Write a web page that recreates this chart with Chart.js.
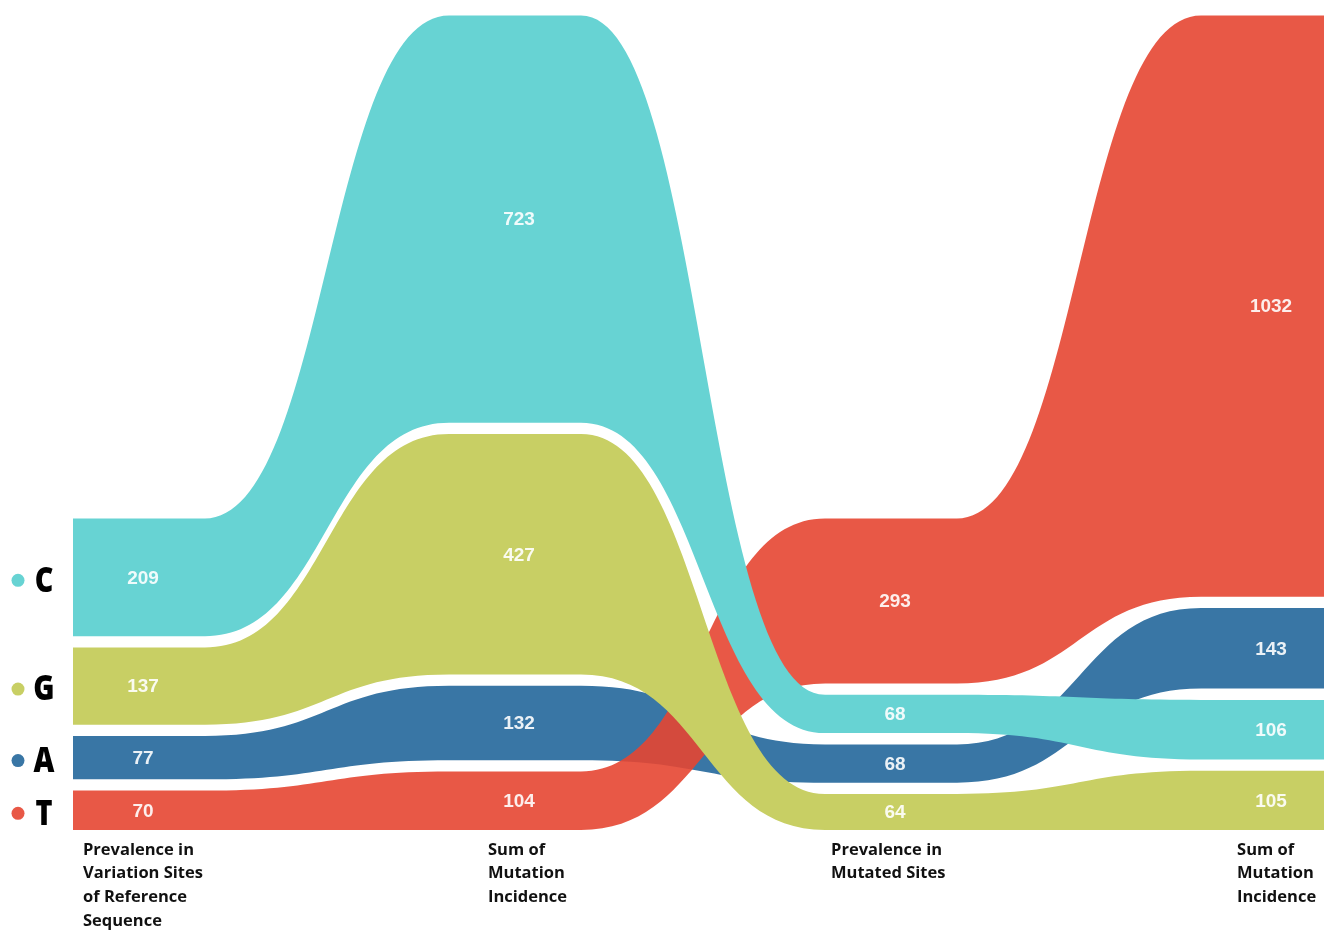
<!DOCTYPE html>
<html>
<head>
<meta charset="utf-8">
<script src="https://cdn.jsdelivr.net/npm/chart.js@4/dist/chart.umd.min.js"></script>
<style>
  html, body { margin: 0; padding: 0; background: #ffffff; }
  #wrap { width: 1324px; height: 930px; }
</style>
</head>
<body>
<div id="wrap"><canvas id="flow" width="1324" height="930"></canvas></div>
<script>
const stages = [
    ['Prevalence in', 'Variation Sites', 'of Reference', 'Sequence'],
    ['Sum of', 'Mutation', 'Incidence'],
    ['Prevalence in', 'Mutated Sites'],
    ['Sum of', 'Mutation', 'Incidence']
]
const bases = ['C', 'G', 'A', 'T']
const valuesC = [209, 723, 68, 106]
const valuesG = [137, 427, 64, 105]
const valuesA = [77, 132, 68, 143]
const valuesT = [70, 104, 293, 1032]

const series = [valuesC, valuesG, valuesA, valuesT]
const colors = ['rgb(103,211,211)', 'rgb(200,207,100)', 'rgb(57,118,165)', 'rgba(229,70,50,0.9)']
const drawOrder = ['G', 'C', 'T', 'A']
const labelOffsets = [10, 39, 6, 36]
const gap = 20
const colWidth = 0.351

function stackColumns(){
    let lo = bases.map(() => [])
    let hi = bases.map(() => [])
    for(let j = 0; j < stages.length; j++){
        let order = bases.map((b, i) => i).sort((a, b) => series[a][j] - series[b][j] || b - a)
        let cursor = 0
        for(let k = 0; k < order.length; k++){
            let i = order[k]
            lo[i][j] = cursor
            hi[i][j] = cursor + series[i][j]
            cursor = hi[i][j] + gap
        }
    }
    return {lo, hi}
}

function edgePoints(arr){
    let pts = []
    for(let j = 0; j < arr.length; j++){
        pts.push({x: j, y: arr[j]})
        pts.push({x: j + colWidth, y: arr[j]})
    }
    return pts
}

const stack = stackColumns()
let datasets = []
for(let b of drawOrder){
    let i = bases.indexOf(b)
    datasets.push({
        label: b + ' low',
        data: edgePoints(stack.lo[i]),
        borderColor: 'transparent',
        borderWidth: 0,
        pointRadius: 0,
        fill: false,
        cubicInterpolationMode: 'monotone'
    })
    datasets.push({
        label: b,
        data: edgePoints(stack.hi[i]),
        borderColor: 'transparent',
        borderWidth: 0,
        pointRadius: 0,
        backgroundColor: colors[i],
        fill: '-1',
        cubicInterpolationMode: 'monotone'
    })
}

// sankey style curves: control points halfway between columns
const ribbonCurves = {
    id: 'ribbonCurves',
    beforeDatasetsDraw(chart){
        chart.getSortedVisibleDatasetMetas().forEach(meta => {
            let line = meta.dataset
            line.updateControlPoints(chart.chartArea, 'x')
            let pts = line.points
            for(let k = 0; k < pts.length; k++){
                let p = pts[k]
                let prev = pts[k - 1]
                let next = pts[k + 1]
                p.cp1x = prev ? p.x - (p.x - prev.x) / 2 : p.x
                p.cp1y = p.y
                p.cp2x = next ? p.x + (next.x - p.x) / 2 : p.x
                p.cp2y = p.y
            }
        })
    }
}

const labelPlugin = {
    id: 'flowLabels',
    afterDatasetsDraw(chart){
        const ctx = chart.ctx
        const xs = chart.scales.x
        const ys = chart.scales.y
        ctx.save()
        ctx.textAlign = 'center'
        ctx.textBaseline = 'middle'
        ctx.font = 'bold 19px "Liberation Sans", Arial, sans-serif'
        ctx.fillStyle = 'rgba(255,255,255,0.9)'
        for(let i = 0; i < bases.length; i++){
            for(let j = 0; j < stages.length; j++){
                let x = xs.getPixelForValue(j + colWidth / 2) + 4
                let y = ys.getPixelForValue((stack.lo[i][j] + stack.hi[i][j]) / 2) + 1
                ctx.fillText(series[i][j], x, y)
            }
        }
        ctx.font = 'bold 16.5px "Open Sans", sans-serif'
        ctx.fillStyle = '#111111'
        ctx.textAlign = 'left'
        for(let j = 0; j < stages.length; j++){
            let lines = stages[j]
            let x = xs.getPixelForValue(j) + labelOffsets[j]
            for(let k = 0; k < lines.length; k++){
                ctx.fillText(lines[k], x, 850 + k * 23.7)
            }
        }
        for(let i = 0; i < bases.length; i++){
            let y = ys.getPixelForValue((stack.lo[i][0] + stack.hi[i][0]) / 2) + 3
            ctx.fillStyle = colors[i]
            ctx.beginPath()
            ctx.arc(18, y, 6.5, 0, Math.PI * 2)
            ctx.fill()
            ctx.save()
            ctx.translate(44, y)
            ctx.scale(0.8, 1)
            ctx.textAlign = 'center'
            ctx.font = '800 36px "Open Sans", sans-serif'
            ctx.fillStyle = '#000000'
            ctx.fillText(bases[i], 0, 1)
            ctx.restore()
        }
        ctx.restore()
    }
}

const config = {
    type: 'line',
    data: {datasets: datasets},
    options: {
        responsive: false,
        animation: false,
        layout: {padding: {left: 73, right: 0, top: 0, bottom: 100}},
        plugins: {
            legend: {display: false},
            tooltip: {enabled: false},
            filler: {propagate: false}
        },
        scales: {
            x: {type: 'linear', min: 0, max: 3.327, display: false},
            y: {min: 0, max: 1473.5, display: false}
        }
    },
    plugins: [ribbonCurves, labelPlugin]
}
let ctx = document.getElementById('flow').getContext('2d')
new Chart(ctx, config)
</script>
</body>
</html>
